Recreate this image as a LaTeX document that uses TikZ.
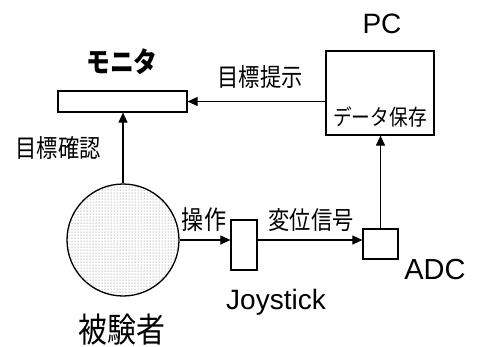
\documentclass[tikz,border=0pt]{standalone}
\usepackage{fontspec}
\setmainfont{Liberation Sans}
\newfontfamily\jp[FakeStretch=0.85]{Noto Sans CJK JP}
\usetikzlibrary{arrows.meta,patterns.meta}
\begin{document}
\begin{tikzpicture}[x=1pt,y=-1pt,
  box/.style={draw,line width=1.2pt,inner sep=0pt},
  arr/.style={line width=1.1pt,-{Triangle[length=10pt,width=9pt]}},
  lbl/.style={inner sep=0pt}]
\useasboundingbox (0,0) rectangle (479,346);
% boxes
\node[box,minimum width=129pt,minimum height=21pt] (mon) at (122.5,101.5) {};
\node[box,minimum width=108pt,minimum height=84pt] (pc) at (380,93) {};
\node[box,minimum width=26pt,minimum height=50pt] (joy) at (244,245) {};
\node[box,minimum width=35pt,minimum height=30pt] (adc) at (380.5,244) {};
\node[circle,draw,line width=1.3pt,minimum size=112pt,inner sep=0pt,
  pattern={Dots[distance=3pt,radius=0.5pt]},pattern color=black!60] (subj) at (123,240) {};
% labels
\node[lbl] (lmon) at (122,62) {\jp\bfseries\fontsize{28}{28}\selectfont モニタ};
\node[lbl] (lpc) at (382,24) {\fontsize{28}{28}\selectfont PC};
\node[lbl] (lshow) at (260,77) {\jp\fontsize{25}{25}\selectfont 目標提示};
\node[lbl] (lsave) at (380,117) {\jp\fontsize{22}{22}\selectfont データ保存};
\node[lbl] (lconf) at (58,148) {\jp\fontsize{25}{25}\selectfont 目標確認};
\node[lbl] (lop) at (204,220) {\jp\fontsize{26}{26}\selectfont 操作};
\node[lbl] (lsig) at (311,220) {\jp\fontsize{25}{25}\selectfont 変位信号};
\node[lbl] (ljoy) at (276,302) {\fontsize{28}{28}\selectfont Joystick};
\node[lbl] (ladc) at (435,270) {\fontsize{29}{29}\selectfont ADC};
\node[lbl] (lsubj) at (122,330) {\jp\fontsize{34}{34}\selectfont 被験者};
% connectors
\draw[arr] (subj.north) -- (subj.north |- mon.south);
\draw[arr] (pc.west |- mon.east) -- (mon.east);
\draw[arr] (subj.east) -- (joy.west |- subj.east);
\draw[arr] (joy.east |- subj.east) -- (adc.west |- subj.east);
\draw[arr] (adc.north) -- (adc.north |- pc.south);
\end{tikzpicture}
\end{document}
